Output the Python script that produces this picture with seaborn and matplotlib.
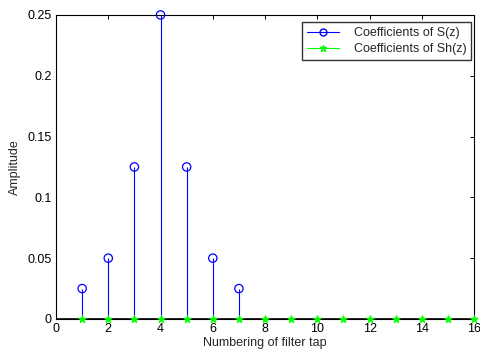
import numpy as np
import pandas as pd
import matplotlib
matplotlib.use("Agg")
import matplotlib.pyplot as plt
from matplotlib.legend_handler import HandlerLine2D
from matplotlib.lines import Line2D
import seaborn as sns

# Filter taps and coefficients
s_taps = [1, 2, 3, 4, 5, 6, 7]
s_coeffs = [0.025, 0.05, 0.125, 0.25, 0.125, 0.05, 0.025]
sh_taps = list(range(1, 17))
sh_coeffs = [0.0] * 16

x_ticks = [0, 2, 4, 6, 8, 10, 12, 14, 16]
y_ticks = [0, 0.05, 0.1, 0.15, 0.2, 0.25]

sns.set_style("white")
plt.rcParams["font.family"] = ["Liberation Sans", "DejaVu Sans"]

df_s = pd.DataFrame({"tap": s_taps, "coef": s_coeffs})
df_sh = pd.DataFrame({"tap": sh_taps, "coef": sh_coeffs})

fig = plt.figure(figsize=(4.8, 3.56), dpi=100)
ax = fig.add_axes([0.1167, 0.104, 0.871, 0.854])

blue = "#0000ff"
green = "#00ff00"

# Stems
ax.vlines(df_s["tap"], 0, df_s["coef"], color=blue, lw=0.8, zorder=2)
ax.vlines(df_sh["tap"], 0, df_sh["coef"], color=green, lw=0.8, zorder=2)
ax.axhline(0, color="black", lw=1.2, zorder=3)

# Markers
sns.scatterplot(data=df_s, x="tap", y="coef", ax=ax, marker="o",
                facecolor="none", edgecolor=blue, linewidth=0.9, s=36,
                zorder=4, legend=False, clip_on=False)
sns.scatterplot(data=df_sh, x="tap", y="coef", ax=ax, marker="*",
                color=green, edgecolor=green, linewidth=0.8, s=30,
                zorder=5, legend=False, clip_on=False)

ax.set_xlim(0, 16)
ax.set_ylim(0, 0.25)
ax.set_xticks(x_ticks)
ax.set_yticks(y_ticks)
ax.set_xticklabels([str(v) for v in x_ticks])
ax.set_yticklabels(["0", "0.05", "0.1", "0.15", "0.2", "0.25"])
ax.tick_params(direction="in", length=3, width=0.7, top=True, right=True,
               labelsize=9, colors="black", pad=3)
for sp in ax.spines.values():
    sp.set_visible(True)
    sp.set_color("black")
    sp.set_linewidth(0.8)
ax.set_xlabel("Numbering of filter tap", fontsize=9, labelpad=1)
ax.set_ylabel("Amplitude", fontsize=9, labelpad=5)
ax.grid(False)


class EndMarkerHandler(HandlerLine2D):
    def get_xdata(self, legend, xdescent, ydescent, width, height, fontsize):
        xdata = np.array([-xdescent, -xdescent + width])
        return xdata, np.array([xdata[-1]])


h1 = Line2D([], [], color=blue, lw=0.8, marker="o", markerfacecolor="none",
            markeredgecolor=blue, markersize=5)
h2 = Line2D([], [], color=green, lw=0.8, marker="*", markersize=5)
leg = ax.legend([h1, h2], ["Coefficients of S(z)", "Coefficients of Sh(z)"],
                loc="upper right", bbox_to_anchor=(0.993, 0.977),
                fontsize=9, frameon=True, fancybox=False,
                edgecolor="black", handlelength=2.5, handletextpad=1.2,
                borderpad=0.4, labelspacing=0.35, borderaxespad=0.0,
                handler_map={Line2D: EndMarkerHandler(numpoints=1)})
leg.get_frame().set_linewidth(1.0)

fig.savefig("out.png", dpi=100)
